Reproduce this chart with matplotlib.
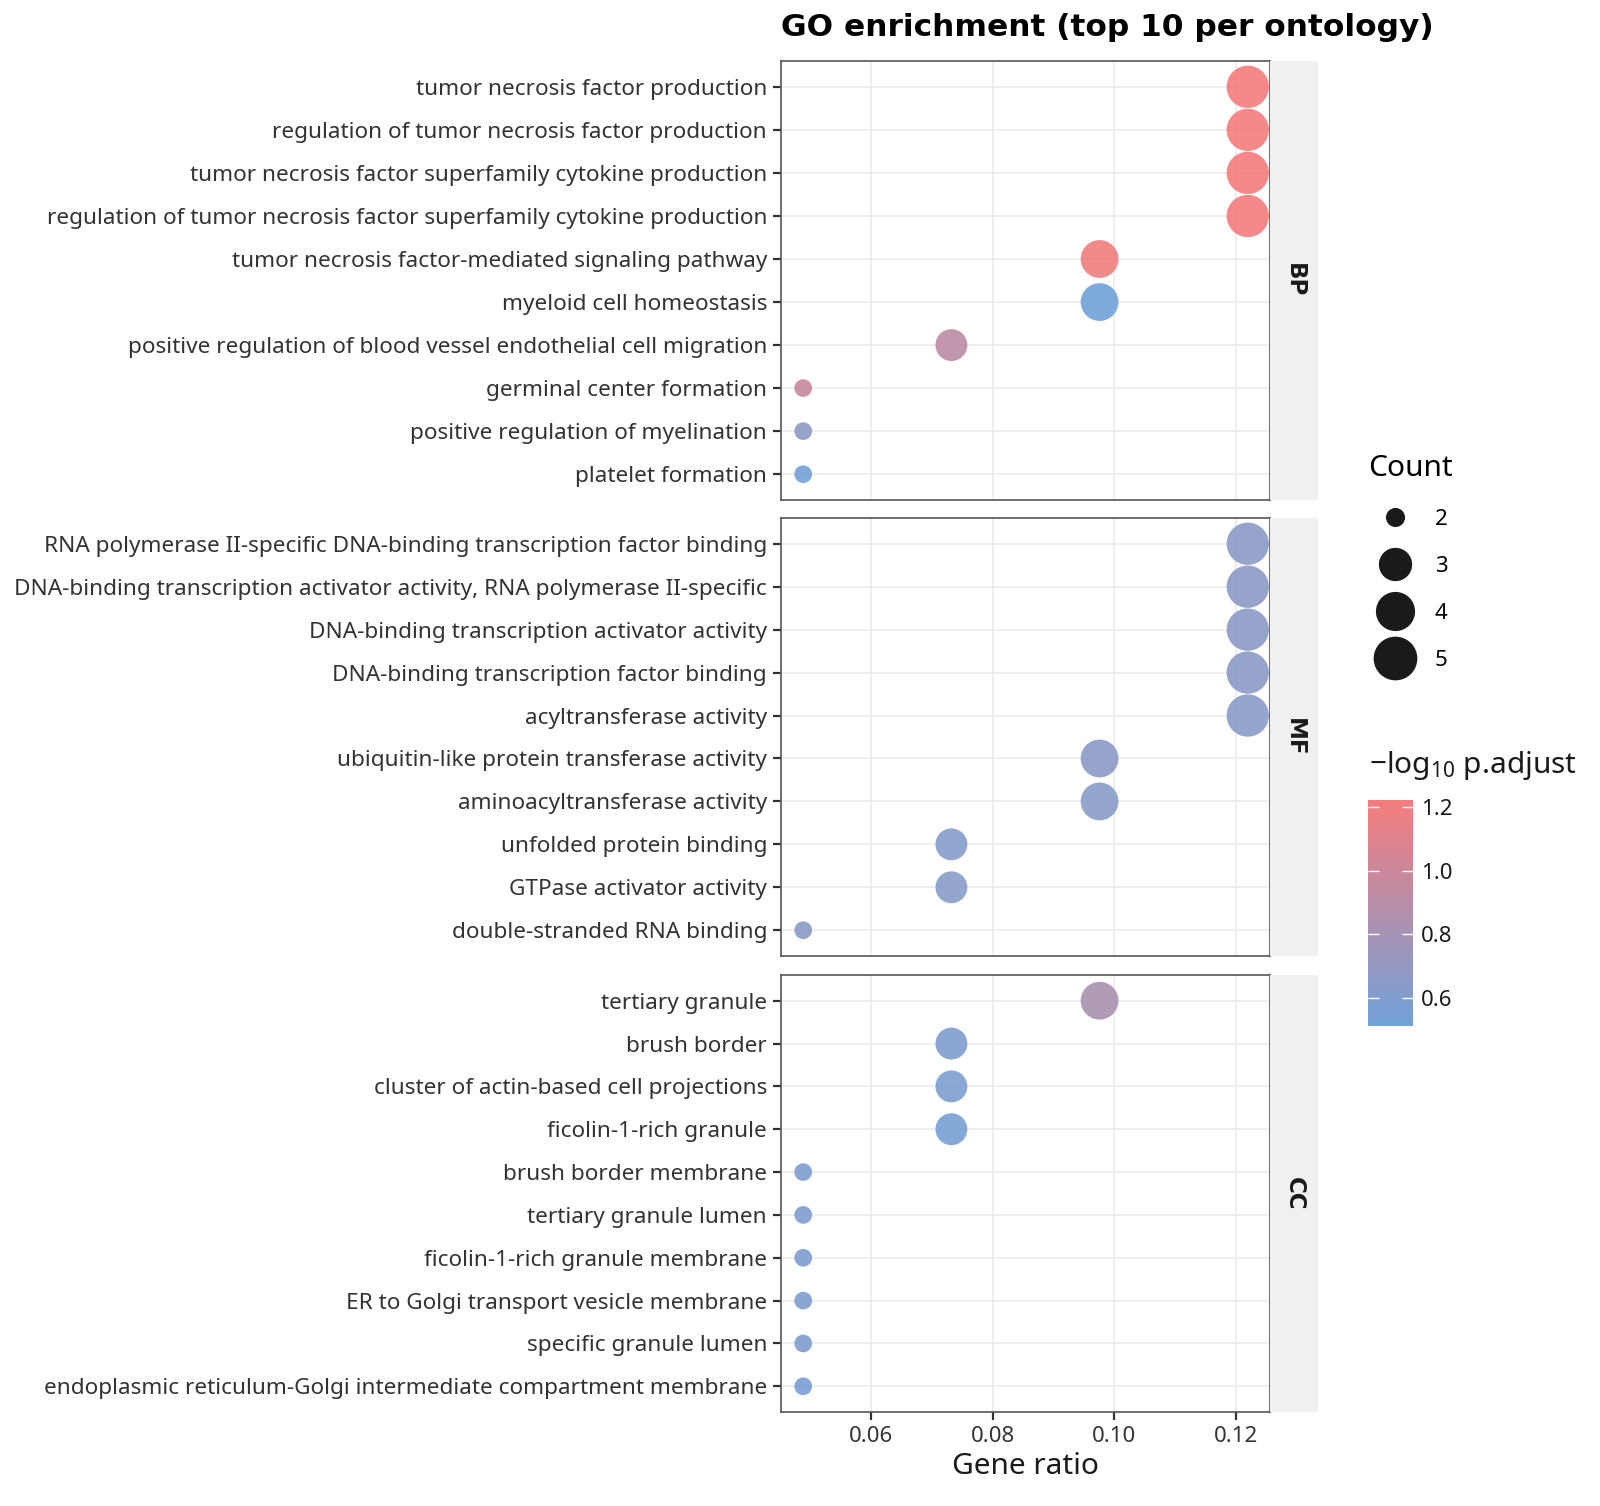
import matplotlib
matplotlib.use('Agg')
import matplotlib.pyplot as plt
from matplotlib.colors import LinearSegmentedColormap, Normalize
from matplotlib.cm import ScalarMappable
from matplotlib.lines import Line2D
import numpy as np

plt.rcParams['font.family'] = ['Noto Sans', 'DejaVu Sans']
plt.rcParams['mathtext.default'] = 'regular'

bp_terms = ['tumor necrosis factor production',
            'regulation of tumor necrosis factor production',
            'tumor necrosis factor superfamily cytokine production',
            'regulation of tumor necrosis factor superfamily cytokine production',
            'tumor necrosis factor-mediated signaling pathway',
            'myeloid cell homeostasis',
            'positive regulation of blood vessel endothelial cell migration',
            'germinal center formation',
            'positive regulation of myelination',
            'platelet formation']
bp_count = [5, 5, 5, 5, 4, 4, 3, 2, 2, 2]
bp_ratio = [0.122, 0.122, 0.122, 0.122, 0.0976, 0.0976, 0.0732, 0.0488, 0.0488, 0.0488]
bp_logp = [1.22, 1.22, 1.22, 1.22, 1.20, 0.52, 0.92, 0.98, 0.68, 0.53]

mf_terms = ['RNA polymerase II-specific DNA-binding transcription factor binding',
            'DNA-binding transcription activator activity, RNA polymerase II-specific',
            'DNA-binding transcription activator activity',
            'DNA-binding transcription factor binding',
            'acyltransferase activity',
            'ubiquitin-like protein transferase activity',
            'aminoacyltransferase activity',
            'unfolded protein binding',
            'GTPase activator activity',
            'double-stranded RNA binding']
mf_count = [5, 5, 5, 5, 5, 4, 4, 3, 3, 2]
mf_ratio = [0.122, 0.122, 0.122, 0.122, 0.122, 0.0976, 0.0976, 0.0732, 0.0732, 0.0488]
mf_logp = [0.66, 0.66, 0.66, 0.66, 0.64, 0.66, 0.64, 0.63, 0.64, 0.66]

cc_terms = ['tertiary granule',
            'brush border',
            'cluster of actin-based cell projections',
            'ficolin-1-rich granule',
            'brush border membrane',
            'tertiary granule lumen',
            'ficolin-1-rich granule membrane',
            'ER to Golgi transport vesicle membrane',
            'specific granule lumen',
            'endoplasmic reticulum-Golgi intermediate compartment membrane']
cc_count = [4, 3, 3, 3, 2, 2, 2, 2, 2, 2]
cc_ratio = [0.0976, 0.0732, 0.0732, 0.0732, 0.0488, 0.0488, 0.0488, 0.0488, 0.0488, 0.0488]
cc_logp = [0.82, 0.60, 0.59, 0.55, 0.60, 0.60, 0.60, 0.60, 0.60, 0.56]

ontologies = ['BP', 'MF', 'CC']
x_ticks = [0.06, 0.08, 0.10, 0.12]
size_breaks = [2, 3, 4, 5]
cbar_ticks = [0.6, 0.8, 1.0, 1.2]

cmap = LinearSegmentedColormap.from_list('go', ['#70a2da', '#f47c7c'])
norm = Normalize(vmin=0.512, vmax=1.222)

all_count = bp_count + mf_count + cc_count


def marker_diam(count):
    # ggplot-style area scale: diameter ~ sqrt of rescaled count, in points
    c = np.asarray(count, dtype=float)
    lo, hi = min(all_count), max(all_count)
    px = 17.7 + (42.3 - 17.7) * np.sqrt((c - lo) / (hi - lo))
    return px * 0.72


W, H = 1600, 1506
fig = plt.figure(figsize=(W / 100, H / 100), dpi=100)

panels = [(bp_terms, bp_count, bp_ratio, bp_logp, 61, 500),
          (mf_terms, mf_count, mf_ratio, mf_logp, 518, 956),
          (cc_terms, cc_count, cc_ratio, cc_logp, 975, 1412)]

left, right, strip_w = 781, 1270, 48
all_ratio = bp_ratio + mf_ratio + cc_ratio
xmin, xmax = min(all_ratio), max(all_ratio)
pad = (xmax - xmin) * 0.05

for i, (terms, count, ratio, logp, top, bottom) in enumerate(panels):
    ax = fig.add_axes([left / W, 1 - bottom / H, (right - left) / W, (bottom - top) / H])
    n = len(terms)
    y = np.arange(n)
    ax.set_axisbelow(True)
    ax.grid(True, color='#ebebeb', linewidth=1.2)
    ax.scatter(ratio, y, s=marker_diam(count) ** 2, c=logp, cmap=cmap, norm=norm,
               alpha=0.9, edgecolors='none', zorder=3)
    ax.set_yticks(y)
    ax.set_yticklabels(terms, fontsize=16.25, color='#333333')
    ax.set_ylim(n - 0.4, -0.6)
    ax.set_xlim(xmin - pad, xmax + pad)
    ax.set_xticks(x_ticks)
    for s in ax.spines.values():
        s.set_color('#555555')
        s.set_linewidth(1.2)
    ax.tick_params(axis='both', length=6, width=1.6, color='#333333', pad=4)
    if i < 2:
        ax.tick_params(axis='x', bottom=False, labelbottom=False)
    else:
        ax.set_xticklabels(['0.06', '0.08', '0.10', '0.12'], fontsize=16, color='#333333')
        ax.set_xlabel('Gene ratio', fontsize=21.5, color='#1a1a1a', labelpad=4)

    sax = fig.add_axes([right / W, 1 - bottom / H, strip_w / W, (bottom - top) / H])
    sax.set_facecolor('#f0f0f0')
    for s in sax.spines.values():
        s.set_visible(False)
    sax.set_xticks([])
    sax.set_yticks([])
    sax.text(0.5, 0.5, ontologies[i], rotation=270, ha='center', va='center',
             fontsize=16.5, fontweight='bold', family='DejaVu Sans', color='#1a1a1a',
             transform=sax.transAxes)

fig.text(left / W, 1 - 28 / H, 'GO enrichment (top 10 per ontology)', ha='left', va='center',
         fontsize=22.5, fontweight='bold', family='DejaVu Sans', color='black')

# size legend
handles = [Line2D([], [], linestyle='none', marker='o', markersize=marker_diam(c),
                  markerfacecolor='#1a1a1a', markeredgecolor='#1a1a1a') for c in size_breaks]
leg = fig.legend(handles, [str(c) for c in size_breaks], title='Count',
                 loc='upper left', bbox_to_anchor=(1368 / W, 1 - 454 / H),
                 frameon=False, fontsize=16, title_fontsize=21.5, labelspacing=1.17,
                 handlelength=2.45, handletextpad=0.55, borderaxespad=0,
                 alignment='left', borderpad=0)

# colour bar
fig.text(1369 / W, 1 - 766 / H, '\u2212log$_{10}$ p.adjust', ha='left', va='center',
         fontsize=21.5, color='#1a1a1a')
cax = fig.add_axes([1368 / W, 1 - 1026 / H, 45 / W, 226 / H])
cb = fig.colorbar(ScalarMappable(norm=norm, cmap=cmap), cax=cax, ticks=cbar_ticks)
cb.outline.set_visible(False)
cax.tick_params(axis='y', direction='in', left=True, right=True, length=8, width=1,
                color='white', labelsize=16, labelcolor='#1a1a1a', pad=6)
cax.set_yticklabels(['0.6', '0.8', '1.0', '1.2'])

fig.savefig('out.png', dpi=100)
